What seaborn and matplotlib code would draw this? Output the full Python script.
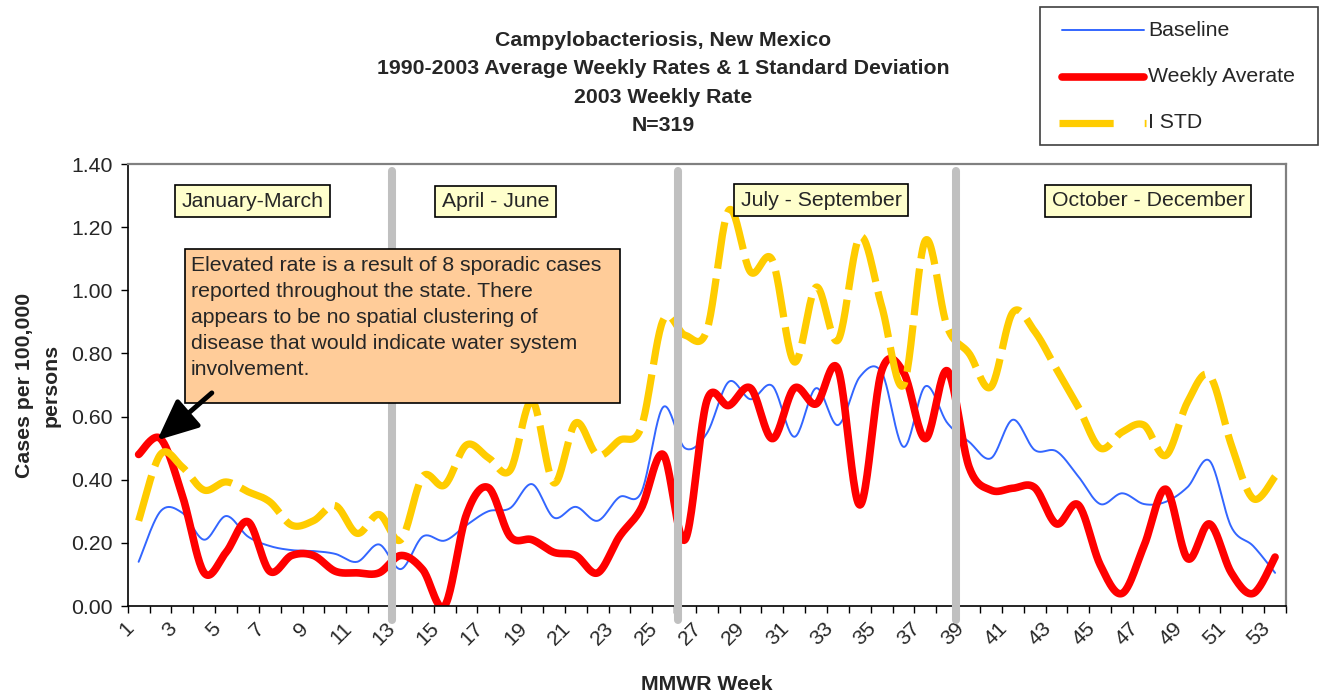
import numpy as np
import pandas as pd
import seaborn as sns
import matplotlib
matplotlib.use('Agg')
import matplotlib.pyplot as plt
from matplotlib.patches import Rectangle
from matplotlib.lines import Line2D
from matplotlib.transforms import ScaledTranslation

weeks = list(range(1, 54))

baseline = [0.14, 0.30, 0.295, 0.21, 0.285, 0.22, 0.19, 0.177, 0.174, 0.165, 0.14, 0.195, 0.117,
            0.22, 0.207, 0.256, 0.30, 0.31, 0.386, 0.28, 0.314, 0.27, 0.345, 0.36, 0.63, 0.50,
            0.547, 0.71, 0.655, 0.697, 0.536, 0.69, 0.573, 0.726, 0.74, 0.504, 0.696, 0.58, 0.52,
            0.468, 0.59, 0.494, 0.49, 0.41, 0.323, 0.357, 0.323, 0.33, 0.377, 0.46, 0.25, 0.19, 0.105]

weekly = [0.48, 0.53, 0.35, 0.105, 0.17, 0.267, 0.11, 0.16, 0.16, 0.11, 0.105, 0.105, 0.16,
          0.115, 0.0, 0.29, 0.375, 0.22, 0.21, 0.17, 0.16, 0.105, 0.22, 0.31, 0.48, 0.21,
          0.65, 0.635, 0.69, 0.53, 0.69, 0.64, 0.75, 0.32, 0.745, 0.74, 0.53, 0.745, 0.44,
          0.367, 0.373, 0.375, 0.26, 0.32, 0.13, 0.04, 0.19, 0.37, 0.15, 0.26, 0.105, 0.04, 0.155]

std1 = [0.27, 0.48, 0.44, 0.367, 0.393, 0.362, 0.33, 0.256, 0.27, 0.318, 0.23, 0.29, 0.21,
        0.41, 0.383, 0.51, 0.47, 0.43, 0.65, 0.39, 0.58, 0.478, 0.525, 0.567, 0.905, 0.858,
        0.873, 1.253, 1.058, 1.095, 0.773, 1.01, 0.842, 1.169, 0.95, 0.70, 1.158, 0.884, 0.80,
        0.694, 0.93, 0.87, 0.75, 0.63, 0.50, 0.551, 0.573, 0.477, 0.647, 0.73, 0.51, 0.34, 0.41]

quarter_lines = [12.58, 25.66, 38.42]
quarter_names = ['January-March', 'April - June', 'July - September', 'October - December']
quarter_pos = [(0.108, 0.916), (0.3175, 0.915), (0.5985, 0.918), (0.881, 0.917)]

note = ('Elevated rate is a result of 8 sporadic cases\n'
        'reported throughout the state. There\n'
        'appears to be no spatial clustering of\n'
        'disease that would indicate water system\n'
        'involvement.')

title = ('Campylobacteriosis, New Mexico\n'
         '1990-2003 Average Weekly Rates & 1 Standard Deviation\n'
         '2003 Weekly Rate\n'
         'N=319')


def smooth(x, y, n=24):
    # excel style smoothed line (bezier, tangent = neighbours / 6)
    p = np.column_stack([np.asarray(x, float), np.asarray(y, float)])
    pp = np.vstack([p[:1], p, p[-1:]])
    t = np.linspace(0, 1, n, endpoint=False)[:, None]
    out = []
    for i in range(len(p) - 1):
        p0, p1 = pp[i + 1], pp[i + 2]
        c1 = p0 + (pp[i + 2] - pp[i]) / 6
        c2 = p1 - (pp[i + 3] - pp[i + 1]) / 6
        seg = ((1 - t) ** 3) * p0 + 3 * ((1 - t) ** 2) * t * c1 + 3 * (1 - t) * t ** 2 * c2 + t ** 3 * p1
        out.append(seg)
    out.append(p[-1:])
    out = np.vstack(out)
    return pd.DataFrame({'week': out[:, 0], 'rate': out[:, 1]})


sns.set_style('ticks')
plt.rcParams['font.family'] = ['Liberation Sans', 'DejaVu Sans']
fs = 15.3

fig = plt.figure(figsize=(13.22, 6.94), dpi=100)
ax = fig.add_axes([127.7 / 1322, 1 - 606 / 694, 1158.3 / 1322, 442 / 694])

blue, red, yellow = '#3366ff', '#ff0000', '#ffcc00'

sns.lineplot(data=smooth(weeks, baseline), x='week', y='rate', ax=ax, color=blue, lw=1.4,
             sort=False, estimator=None, zorder=2)
sns.lineplot(data=smooth(weeks, weekly), x='week', y='rate', ax=ax, color=red, lw=5.5,
             sort=False, estimator=None, zorder=2.1, solid_capstyle='round', solid_joinstyle='round')
sns.lineplot(data=smooth(weeks, std1), x='week', y='rate', ax=ax, color=yellow, lw=5.2,
             sort=False, estimator=None, zorder=2.2)
ax.lines[-1].set_dashes([6.5, 1.4])
ax.lines[-1].set_dash_capstyle('butt')

for q in quarter_lines:
    ax.axvline(q, ymin=-0.032, ymax=0.984, color='#c0c0c0', lw=5.8, clip_on=False, zorder=3)

ax.set_xlim(0.5, 53.5)
ax.set_ylim(0, 1.4)
ax.set_yticks(np.arange(0, 1.41, 0.2))
ax.set_yticklabels(['%.2f' % v for v in np.arange(0, 1.41, 0.2)], fontsize=fs)
ax.set_xticks(np.arange(0.5, 54, 1))
ax.set_xticklabels([])
ax.set_xticks(weeks[::2], minor=True)
ax.set_xticklabels([str(w) for w in weeks[::2]], minor=True, fontsize=fs,
                   rotation=45, ha='right', va='top', rotation_mode='anchor')
ax.tick_params(axis='x', which='major', length=5, width=1, direction='out', color='black')
ax.tick_params(axis='x', which='minor', length=0, pad=9)
ax.tick_params(axis='y', length=5, width=1, direction='out', color='black', pad=6)
off = ScaledTranslation(-15 / 100, 0, fig.dpi_scale_trans)
for lbl in ax.get_xticklabels(minor=True):
    lbl.set_transform(lbl.get_transform() + off)

for side in ['left', 'bottom']:
    ax.spines[side].set_color('black')
    ax.spines[side].set_linewidth(1.2)
for side in ['top', 'right']:
    ax.spines[side].set_visible(True)
    ax.spines[side].set_color('#808080')
    ax.spines[side].set_linewidth(1.6)

ax.set_xlabel('MMWR Week', fontsize=fs, fontweight='bold')
ax.xaxis.set_label_coords(0.5, -0.155)
ax.set_ylabel('Cases per 100,000\npersons', fontsize=fs, fontweight='bold', linespacing=1.5)
ax.yaxis.set_label_coords(-0.058, 0.5)

for name, (qx, qy) in zip(quarter_names, quarter_pos):
    ax.text(qx, qy, name, transform=ax.transAxes, ha='center', va='center', fontsize=fs,
            zorder=4, bbox=dict(boxstyle='square,pad=0.3', facecolor='#ffffcc',
                                edgecolor='black', lw=1.2))

ax.add_patch(Rectangle((0.0495, 0.4593), 0.3755, 0.3484, transform=ax.transAxes,
                       facecolor='#ffcc99', edgecolor='black', lw=1.2, zorder=4))
ax.text(0.0546, 0.792, note, transform=ax.transAxes, ha='left', va='top', fontsize=fs,
        linespacing=1.46, zorder=5)

ax.annotate('', xy=(1.85, 0.525), xytext=(4.35, 0.675),
            arrowprops=dict(arrowstyle='-|>,head_length=1.0,head_width=0.45', lw=3.5,
                            color='black', mutation_scale=25, shrinkA=0, shrinkB=0),
            zorder=6)

fig.text(663 / 1322, 1 - 31 / 694, title, ha='center', va='top', fontsize=fs,
         fontweight='bold', linespacing=1.63)

# legend drawn by hand to match the boxed excel legend
fig.patches.append(Rectangle((1040 / 1322, 1 - 145 / 694), 278 / 1322, 138 / 694,
                             transform=fig.transFigure, facecolor='white',
                             edgecolor='#404040', lw=1.2))
leg_rows = [('Baseline', blue, 1.4, 30), ('Weekly Averate', red, 5.5, 77), ('I STD', yellow, 5.2, 123)]
for lab, col, lw, py in leg_rows:
    yy = 1 - py / 694
    ln = Line2D([1062 / 1322, 1144 / 1322], [yy, yy], transform=fig.transFigure,
                color=col, lw=lw, solid_capstyle='round')
    if lab == 'I STD':
        ln.set_xdata([1059 / 1322, 1146 / 1322])
        ln.set_dashes([7.5, 4.3])
        ln.set_dash_capstyle('butt')
    fig.lines.append(ln)
    fig.text(1148 / 1322, yy, lab, ha='left', va='center', fontsize=fs)

fig.savefig('out.png', dpi=100)
